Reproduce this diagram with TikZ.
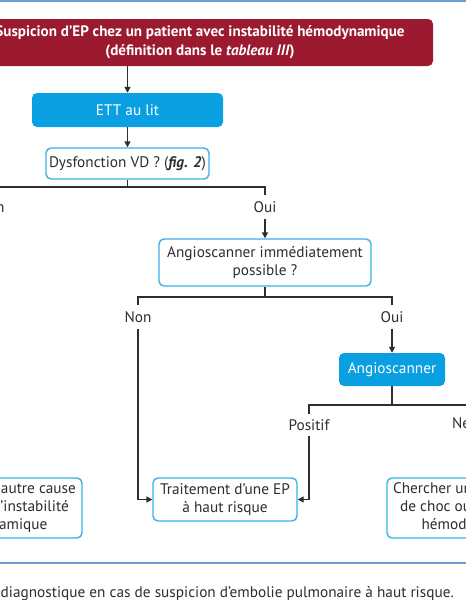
\documentclass[tikz,border=0pt]{standalone}
\usepackage{fontspec}
\setmainfont{PT Sans}
\usetikzlibrary{arrows.meta,positioning}
\definecolor{epred}{HTML}{9C1A2F}
\definecolor{epcyan}{HTML}{0A9FE0}
\definecolor{epedge}{HTML}{3AB1E8}
\definecolor{eprule}{HTML}{6E9CD4}
\definecolor{eptext}{HTML}{2E2E2E}
\begin{document}
\begin{tikzpicture}[x=1pt,y=-1pt,
  every node/.style={font=\fontsize{15.3}{18}\selectfont, text=eptext},
  redbox/.style={draw=none, fill=epred, rounded corners=5pt, text=white, font=\bfseries\fontsize{15.1}{19}\selectfont, align=center, inner sep=0pt},
  fillbox/.style={draw=none, fill=epcyan, rounded corners=5pt, text=white, align=center, inner sep=0pt},
  openbox/.style={draw=epedge, line width=1.4pt, fill=white, rounded corners=5pt, align=center, inner sep=0pt, font=\fontsize{15.3}{18}\selectfont},
  lbl/.style={inner sep=0pt, minimum height=23pt},
  conn/.style={draw=eptext, line width=1.4pt},
  arr/.style={conn, -{Triangle[length=6pt,width=6pt]}},
  rulestyle/.style={draw=eprule, line width=2pt}
]
\useasboundingbox (0,0) rectangle (466,600);
\clip (0,0) rectangle (466,600);
\fill[white] (0,0) rectangle (466,600);

\draw[rulestyle] (0,1) -- (466,1);
\draw[rulestyle] (0,563) -- (466,563);

\node[redbox, minimum width=466pt, minimum height=47pt] (red) at (200,42.5)
  {Suspicion d'EP chez un patient avec instabilité hémodynamique\\(définition dans le \textit{tableau III})};
\node[fillbox, minimum width=191pt, minimum height=34pt] (ett) at (127.5,110) {ETT au lit};
\node[openbox, minimum width=163pt, minimum height=31pt] (dysf) at (127.5,163.5) {Dysfonction VD ? (\textbf{\textit{fig. 2}})};
\node[lbl] (non1) at (-9,207) {Non};
\node[lbl] (oui1) at (265,207) {Oui};
\node[openbox, minimum width=212pt, minimum height=47pt] (angio) at (265,262.5) {Angioscanner immédiatement\\possible ?};
\node[lbl] (non2) at (138,317) {Non};
\node[lbl] (oui2) at (392,317) {Oui};
\node[fillbox, minimum width=106pt, minimum height=33pt] (angio2) at (392,369.5) {Angioscanner};
\node[lbl, minimum height=22pt] (pos) at (309,425) {Positif};
\node[lbl, minimum height=22pt] (neg) at (476,425) {Négatif};
\node[openbox, minimum width=144pt, minimum height=43pt] (trait) at (225,499.5) {Traitement d’une EP\\à haut risque};
\node[openbox, minimum width=178pt, minimum height=60pt] (left) at (-7,508) {Chercher une autre cause\\de choc ou d’instabilité\\hémodynamique};
\node[openbox, minimum width=178pt, minimum height=60pt] (right) at (476,508) {Chercher une autre cause\\de choc ou d’instabilité\\hémodynamique};

\node[anchor=east, inner sep=0pt] (cap) at (454,594) {diagnostique en cas de suspicion d’embolie pulmonaire à haut risque.};

\draw[arr] (ett |- red.south) -- (ett.north);
\draw[arr] (ett.south) -- (dysf.north);
\coordinate (j1) at (127.5,187);
\draw[conn] (dysf.south) -- (j1);
\draw[conn] (j1) -| (non1.north);
\draw[conn] (j1) -| (oui1.north);
\draw[arr] (oui1.south) -- (angio.north);
\draw[arr] (non1.south) -- (non1.south |- left.north);
\coordinate (j2) at (265,297);
\draw[conn] (angio.south) -- (j2);
\draw[conn] (j2) -| (non2.north);
\draw[conn] (j2) -| (oui2.north);
\draw[arr] (non2.south) |- (trait.west);
\draw[arr] (oui2.south) -- (angio2.north);
\coordinate (j3) at (392,405);
\draw[conn] (angio2.south) -- (j3);
\draw[conn] (j3) -| (pos.north);
\draw[conn] (j3) -| (neg.north);
\draw[arr] (pos.south) |- (trait.east);
\draw[arr] (neg.south) -- (right.north);
\end{tikzpicture}
\end{document}
